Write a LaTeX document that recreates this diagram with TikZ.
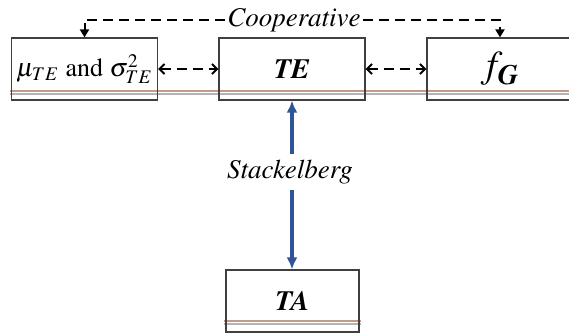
\documentclass[tikz,border=0pt]{standalone}
\usepackage{amsmath}
\usepackage[T1]{fontenc}
\usepackage{mathptmx}
\usepackage{xcolor}
\usepackage{tikz}
\usetikzlibrary{arrows.meta}
\definecolor{stackblue}{HTML}{2F5597}
\definecolor{rulebrown}{HTML}{C49A8A}
\definecolor{rulegray}{HTML}{B4B4B4}

\begin{document}
\begin{tikzpicture}[x=0.5pt,y=-0.5pt,
  box/.style={draw=black!75,line width=0.6pt,minimum width=73pt,minimum height=31pt,inner sep=0pt},
  coop/.style={black,line width=1pt,dash pattern=on 5pt off 3pt},
  side/.style={coop,{Straight Barb[length=2.5pt,width=5pt]}-{Straight Barb[length=2.5pt,width=5pt]}},
  drop/.style={coop,-{Triangle[length=4pt,width=4.5pt]}},
  stack/.style={stackblue,line width=1.6pt,-{Latex[length=6pt,width=5.5pt]}},
  lbl/.style={font=\fontsize{13.5}{16}\selectfont\itshape,inner sep=1pt}]
\useasboundingbox (0,0) rectangle (569,335);
\draw[rulebrown,line width=0.6pt] (10,91) -- (569,91);
\draw[rulegray,line width=0.6pt] (10,94) -- (569,94);
\draw[rulebrown,line width=0.6pt] (224,321) -- (361,321);
\draw[rulegray,line width=0.6pt] (224,324) -- (361,324);
\node[box,font=\fontsize{13}{15}\selectfont] (mu) at (84.5,69) {$\mu_{TE}$ and $\sigma^2_{TE}$};
\node[box,font=\fontsize{14}{16}\selectfont\bfseries\itshape] (te) at (292,69) {TE};
\node[box,font=\fontsize{19}{21}\selectfont] (fg) at (500,69) {$f_{\textbf{\textit{G}}}$};
\node[box,minimum width=66.5pt,font=\fontsize{14}{16}\selectfont\bfseries\itshape] (ta) at (292.5,301) {TA};
\node[lbl] (coopl) at (294,20) {Cooperative};
\node[lbl,inner sep=3pt] (stk) at (290,172) {Stackelberg};
\draw[side] (mu) -- (te);
\draw[side] (te) -- (fg);
\draw[drop] (coopl.west) -| (mu.north);
\draw[drop] (coopl.east) -| (fg.north);
\draw[stack] (stk.north -| te.south) -- (te.south);
\draw[stack] (stk.south -| te.south) -- (ta.north -| te.south);
\end{tikzpicture}
\end{document}
